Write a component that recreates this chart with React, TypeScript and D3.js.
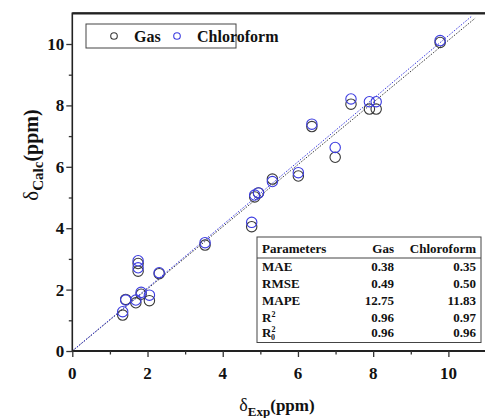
import React, { useEffect, useRef } from 'react'
import * as d3 from 'd3'

// experimental shifts (shared x) and calculated shifts per medium
const expShift = [1.34, 1.42, 1.69, 1.75, 1.75, 1.83, 2.05, 2.31, 3.53, 4.77, 4.85, 4.95, 5.32, 6.01, 6.37, 6.99, 7.41, 7.9, 8.08, 9.78]
const gasCalc = [1.17, 1.68, 1.57, 2.6, 2.85, 1.85, 1.64, 2.52, 3.45, 4.05, 5.02, 5.15, 5.6, 5.7, 7.31, 6.31, 8.04, 7.88, 7.88, 10.05]
const chlCalc = [1.28, 1.66, 1.66, 2.71, 2.94, 1.91, 1.82, 2.55, 3.53, 4.19, 5.08, 5.15, 5.52, 5.81, 7.39, 6.63, 8.21, 8.12, 8.12, 10.11]

// linear fits [intercept, slope, xEnd]
const gasFit = [0, 1.012, 10.71]
const chlFit = [0, 1.027, 10.62]

const xTicks = [0, 2, 4, 6, 8, 10]
const yTicks = [0, 2, 4, 6, 8, 10]

const tableHead = ['Parameters', 'Gas', 'Chloroform']
const tableParams = ['MAE', 'RMSE', 'MAPE', 'R2', 'R02']
const tableGas = ['0.38', '0.49', '12.75', '0.96', '0.96']
const tableChl = ['0.35', '0.50', '11.83', '0.97', '0.96']

const W = 485
const H = 418
const GAS = '#3a3a3a'
const CHL = '#3c3ce0'
const FONT = '"Liberation Serif", "Times New Roman", serif'

const x = d3.scaleLinear().domain([0, 11]).range([72.3, 486])
const y = d3.scaleLinear().domain([0, 11]).range([351, 13.3])

const App = () => {
  const ref = useRef<SVGSVGElement>(null)

  useEffect(() => {
    const svg = d3.select(ref.current)
    svg.selectAll('*').remove()
    svg.style('font-family', FONT)

    // fit lines (dotted)
    const fits: [number[], string][] = [
      [gasFit, GAS],
      [chlFit, CHL],
    ]
    fits.forEach(([f, c]) => {
      svg
        .append('line')
        .attr('x1', x(0))
        .attr('y1', y(f[0]))
        .attr('x2', x(f[2]))
        .attr('y2', y(f[0] + f[1] * f[2]))
        .attr('stroke', c)
        .attr('stroke-width', 1)
        .attr('stroke-dasharray', '1.5,1.5')
    })

    // points
    const series: [number[], string][] = [
      [gasCalc, GAS],
      [chlCalc, CHL],
    ]
    series.forEach(([vals, c]) => {
      svg
        .append('g')
        .selectAll('circle')
        .data(vals)
        .join('circle')
        .attr('cx', (d, i) => x(expShift[i]))
        .attr('cy', (d) => y(d))
        .attr('r', 5.2)
        .attr('fill', 'none')
        .attr('stroke', c)
        .attr('stroke-width', 1.1)
    })

    // frame
    svg
      .append('path')
      .attr('d', `M${x(11)},${y(11)}H${x(0)}V${y(0)}H${x(11)}`)
      .attr('fill', 'none')
      .attr('stroke', '#222')
      .attr('stroke-width', 1.6)
    svg
      .append('line')
      .attr('x1', x(0))
      .attr('x2', x(11))
      .attr('y1', y(0))
      .attr('y2', y(0))
      .attr('stroke', '#222')
      .attr('stroke-width', 2.2)
    svg
      .append('line')
      .attr('x1', x(0))
      .attr('x2', x(11))
      .attr('y1', y(11))
      .attr('y2', y(11))
      .attr('stroke', '#222')
      .attr('stroke-width', 2.2)

    // axes
    const xAxis = svg
      .append('g')
      .attr('transform', `translate(0,${y(0)})`)
      .call(d3.axisBottom(x).tickValues(d3.range(0, 11, 1)).tickSize(5).tickFormat(() => ''))
    xAxis.select('.domain').remove()
    xAxis.selectAll('line').attr('stroke', '#333').attr('stroke-width', 1.3).attr('y2', (d: any) => (d % 2 ? 3.5 : 6))
    svg
      .append('g')
      .selectAll('text')
      .data(xTicks)
      .join('text')
      .attr('x', (d) => x(d))
      .attr('y', 379)
      .attr('text-anchor', 'middle')
      .attr('font-size', 17)
      .attr('font-weight', 'bold')
      .attr('fill', '#111')
      .text((d) => d)

    const yAxis = svg
      .append('g')
      .attr('transform', `translate(${x(0)},0)`)
      .call(d3.axisLeft(y).tickValues(d3.range(0, 11, 1)).tickSize(5).tickFormat(() => ''))
    yAxis.select('.domain').remove()
    yAxis.selectAll('line').attr('stroke', '#333').attr('stroke-width', 1.3).attr('x2', (d: any) => (d % 2 ? -3.5 : -6))
    svg
      .append('g')
      .selectAll('text')
      .data(yTicks)
      .join('text')
      .attr('x', x(0) - 8)
      .attr('y', (d) => y(d) + 6)
      .attr('text-anchor', 'end')
      .attr('font-size', 17)
      .attr('font-weight', 'bold')
      .attr('fill', '#111')
      .text((d) => d)

    // axis titles
    const xt = svg
      .append('text')
      .attr('x', 277)
      .attr('y', 411)
      .attr('text-anchor', 'middle')
      .attr('font-size', 17)
      .attr('font-weight', 'bold')
      .attr('fill', '#111')
    xt.append('tspan').attr('font-weight', 'normal').attr('font-size', 18).text('δ')
    xt.append('tspan').attr('font-size', 13).attr('dy', 5).text('Exp')
    xt.append('tspan').attr('dy', -5).text('(ppm)')

    const yt = svg
      .append('text')
      .attr('transform', 'translate(38,155) rotate(-90)')
      .attr('text-anchor', 'middle')
      .attr('font-size', 20)
      .attr('font-weight', 'bold')
      .attr('fill', '#111')
    yt.append('tspan').attr('font-weight', 'normal').attr('font-size', 21).text('δ')
    yt.append('tspan').attr('font-size', 15).attr('dy', 5).text('Calc')
    yt.append('tspan').attr('dy', -5).text('(ppm)')

    // legend
    const lg = svg.append('g')
    lg.append('rect')
      .attr('x', 86)
      .attr('y', 24)
      .attr('width', 150)
      .attr('height', 24)
      .attr('fill', 'white')
      .attr('stroke', '#444')
      .attr('stroke-width', 1)
    const items: [string, string, number][] = [
      ['Gas', GAS, 114],
      ['Chloroform', CHL, 177],
    ]
    items.forEach(([name, c, cx]) => {
      lg.append('circle').attr('cx', cx).attr('cy', 36).attr('r', 3.3).attr('fill', 'none').attr('stroke', c).attr('stroke-width', 1.1)
      lg.append('text')
        .attr('x', cx + 20)
        .attr('y', 41.5)
        .attr('font-size', 16)
        .attr('font-weight', 'bold')
        .attr('fill', '#111')
        .text(name)
    })

    // stats table
    const tb = svg.append('g').attr('font-size', 13).attr('font-weight', 'bold').attr('fill', '#111')
    const tx0 = 257
    const tx1 = 481
    const ty0 = 237
    const tySep = 258
    const rowH = 16.9
    tb.append('rect')
      .attr('x', tx0)
      .attr('y', ty0)
      .attr('width', tx1 - tx0)
      .attr('height', tySep + rowH * 5 - ty0)
      .attr('fill', 'white')
      .attr('stroke', '#444')
      .attr('stroke-width', 1)
    tb.append('line').attr('x1', tx0).attr('x2', tx1).attr('y1', tySep).attr('y2', tySep).attr('stroke', '#444').attr('stroke-width', 1)

    const colX = [262, 394, 476]
    tableHead.forEach((h, j) => {
      tb.append('text')
        .attr('x', colX[j])
        .attr('y', 253)
        .attr('text-anchor', j === 0 ? 'start' : 'end')
        .text(h)
    })
    tableParams.forEach((p, i) => {
      const by = tySep + rowH * i + (i === 4 ? 11.5 : 13)
      const t = tb.append('text').attr('x', colX[0]).attr('y', by)
      if (p === 'R2') {
        t.append('tspan').text('R')
        t.append('tspan').attr('font-size', 8).attr('dy', -5).text('2')
      } else if (p === 'R02') {
        t.append('tspan').text('R')
        t.append('tspan').attr('font-size', 8).attr('dy', -5).text('2')
        t.append('tspan').attr('font-size', 8).attr('dx', -4.5).attr('dy', 8).text('0')
      } else {
        t.text(p)
      }
      tb.append('text').attr('x', colX[1]).attr('y', by).attr('text-anchor', 'end').text(tableGas[i])
      tb.append('text').attr('x', colX[2]).attr('y', by).attr('text-anchor', 'end').text(tableChl[i])
    })
  })

  return (
    <svg
      ref={ref}
      width={W}
      height={H}
      style={{ position: 'absolute', left: 0, top: 0, background: 'white' }}
    ></svg>
  )
}

export default App
